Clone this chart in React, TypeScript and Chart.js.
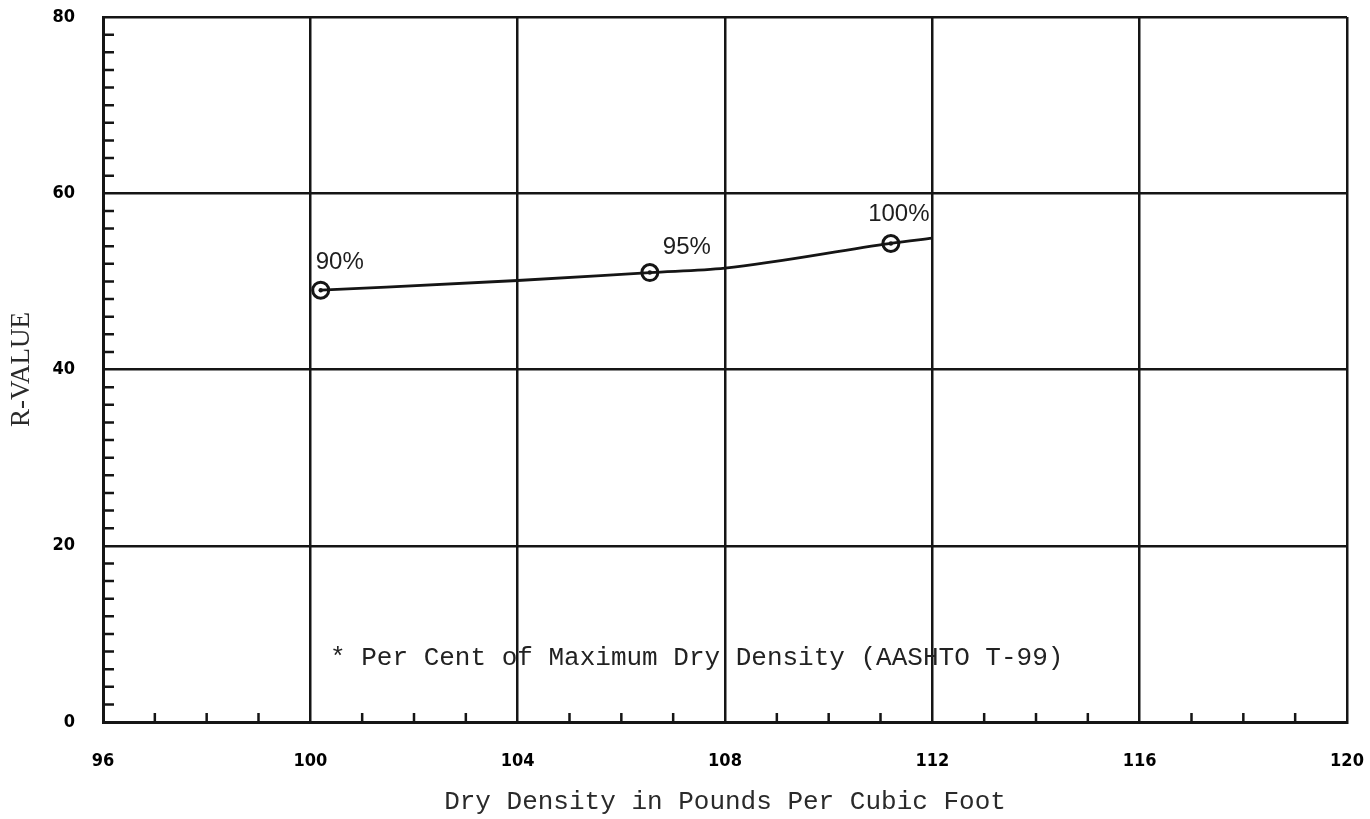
import React, { useEffect, useRef } from "react";
import { Chart, registerables } from "chart.js";

Chart.register(...registerables);

// ---- data ----
const xTickValues = [96, 100, 104, 108, 112, 116, 120];
const yTickValues = [0, 20, 40, 60, 80];
const curveX = [100.2, 104, 106.55, 108, 111.2, 112];
const curveY = [49.0, 50.1, 51.0, 51.5, 54.3, 54.9];
const pointX = [100.2, 106.55, 111.2];
const pointY = [49.0, 51.0, 54.3];
const pointLabels = ["90%", "95%", "100%"];
const footnoteText = "* Per Cent of Maximum Dry Density (AASHTO T-99)";
const footnoteAt = { x: 100.38, y: 7.3 };
const xTitle = "Dry Density in Pounds Per Cubic Foot";
const yTitle = "R-VALUE";

const INK = "#151515";
const TICK_FONT = "'Liberation Sans Narrow', 'DejaVu Sans Condensed', 'Liberation Sans', sans-serif";

function noPadding(s: any) {
  s.paddingTop = 0;
  s.paddingBottom = 0;
  s.paddingLeft = 0;
  s.paddingRight = 0;
}

export default function App() {
  const ref = useRef<HTMLCanvasElement>(null);

  useEffect(() => {
    const canvas = ref.current;
    if (!canvas) return;

    const minorTicks = {
      id: "minorTicks",
      afterDraw(chart: any) {
        const { ctx, chartArea, scales } = chart;
        const xs = scales.x;
        const ys = scales.y;
        ctx.save();
        ctx.strokeStyle = INK;
        ctx.lineWidth = 2.5;
        ctx.beginPath();
        for (let v = xs.min + 1; v < xs.max; v += 1) {
          if (xTickValues.includes(v)) continue;
          const px = xs.getPixelForValue(v);
          ctx.moveTo(px, chartArea.bottom);
          ctx.lineTo(px, chartArea.bottom - 9);
        }
        for (let v = ys.min + 2; v < ys.max; v += 2) {
          if (yTickValues.includes(v)) continue;
          const py = ys.getPixelForValue(v);
          ctx.moveTo(chartArea.left, py);
          ctx.lineTo(chartArea.left + 11, py);
        }
        ctx.stroke();
        ctx.restore();
      },
    };

    const labelOffsets = [
      { dx: 19, dy: -28 },
      { dx: 37, dy: -25 },
      { dx: 8, dy: -29 },
    ];

    const annotations = {
      id: "annotations",
      afterDatasetsDraw(chart: any) {
        const { ctx, scales } = chart;
        const xs = scales.x;
        const ys = scales.y;
        ctx.save();
        ctx.fillStyle = "#1e1e1e";
        ctx.font = "24px 'Liberation Sans', sans-serif";
        ctx.textAlign = "center";
        ctx.textBaseline = "middle";
        pointLabels.forEach((t, i) => {
          const px = xs.getPixelForValue(pointX[i]);
          const py = ys.getPixelForValue(pointY[i]);
          ctx.fillText(t, px + labelOffsets[i].dx, py + labelOffsets[i].dy);
        });
        ctx.font = "26px 'Liberation Mono', monospace";
        ctx.textAlign = "left";
        ctx.fillStyle = "#222";
        ctx.fillText(footnoteText, xs.getPixelForValue(footnoteAt.x), ys.getPixelForValue(footnoteAt.y));
        ctx.restore();
      },
    };

    const points = pointX.map((x, i) => ({ x, y: pointY[i] }));

    const chart = new Chart(canvas, {
      type: "line",
      data: {
        datasets: [
          {
            data: curveX.map((x, i) => ({ x, y: curveY[i] })),
            borderColor: INK,
            borderWidth: 2.8,
            pointRadius: 0,
            cubicInterpolationMode: "monotone",
            fill: false,
          },
          {
            data: points,
            showLine: false,
            pointRadius: 8,
            pointBorderWidth: 3,
            pointBorderColor: INK,
            pointBackgroundColor: "rgba(255,255,255,0)",
          },
          {
            data: points,
            showLine: false,
            pointRadius: 2.2,
            pointBorderWidth: 0,
            pointBackgroundColor: INK,
          },
        ],
      },
      options: {
        responsive: true,
        maintainAspectRatio: false,
        animation: false,
        layout: { padding: { top: 17, right: 23, left: 0, bottom: 0 } },
        plugins: { legend: { display: false }, tooltip: { enabled: false } },
        scales: {
          x: {
            type: "linear",
            min: 96,
            max: 120,
            afterBuildTicks(s: any) {
              s.ticks = xTickValues.map((v) => ({ value: v }));
            },
            ticks: {
              padding: 29,
              color: "#000",
              font: { family: TICK_FONT, size: 18, weight: "bold" },
            },
            grid: { color: INK, lineWidth: 2.5, drawTicks: false },
            border: { color: INK, width: 3 },
            title: {
              display: true,
              text: xTitle,
              color: "#2a2a2a",
              font: { family: "'Liberation Mono', monospace", size: 26 },
              padding: { top: 0, bottom: 1 },
            },
            afterFit(s: any) {
              s.height = 97;
              noPadding(s);
            },
          },
          y: {
            type: "linear",
            min: 0,
            max: 80,
            afterBuildTicks(s: any) {
              s.ticks = yTickValues.map((v) => ({ value: v }));
            },
            ticks: {
              padding: 28,
              color: "#000",
              font: { family: TICK_FONT, size: 18, weight: "bold" },
            },
            grid: { color: INK, lineWidth: 2.5, drawTicks: false },
            border: { color: INK, width: 3 },
            title: {
              display: true,
              text: yTitle,
              color: "#2a2a2a",
              font: { family: "'Liberation Serif', serif", size: 27 },
              padding: { top: 6, bottom: 0 },
            },
            afterFit(s: any) {
              s.width = 103;
              noPadding(s);
            },
          },
        },
      },
      plugins: [minorTicks, annotations],
    } as any);

    return () => chart.destroy();
  }, []);

  return (
    <div
      style={{
        position: "fixed",
        left: 0,
        top: 0,
        width: 1370,
        height: 819,
        background: "#fff",
      }}
    >
      <canvas ref={ref} />
    </div>
  );
}
